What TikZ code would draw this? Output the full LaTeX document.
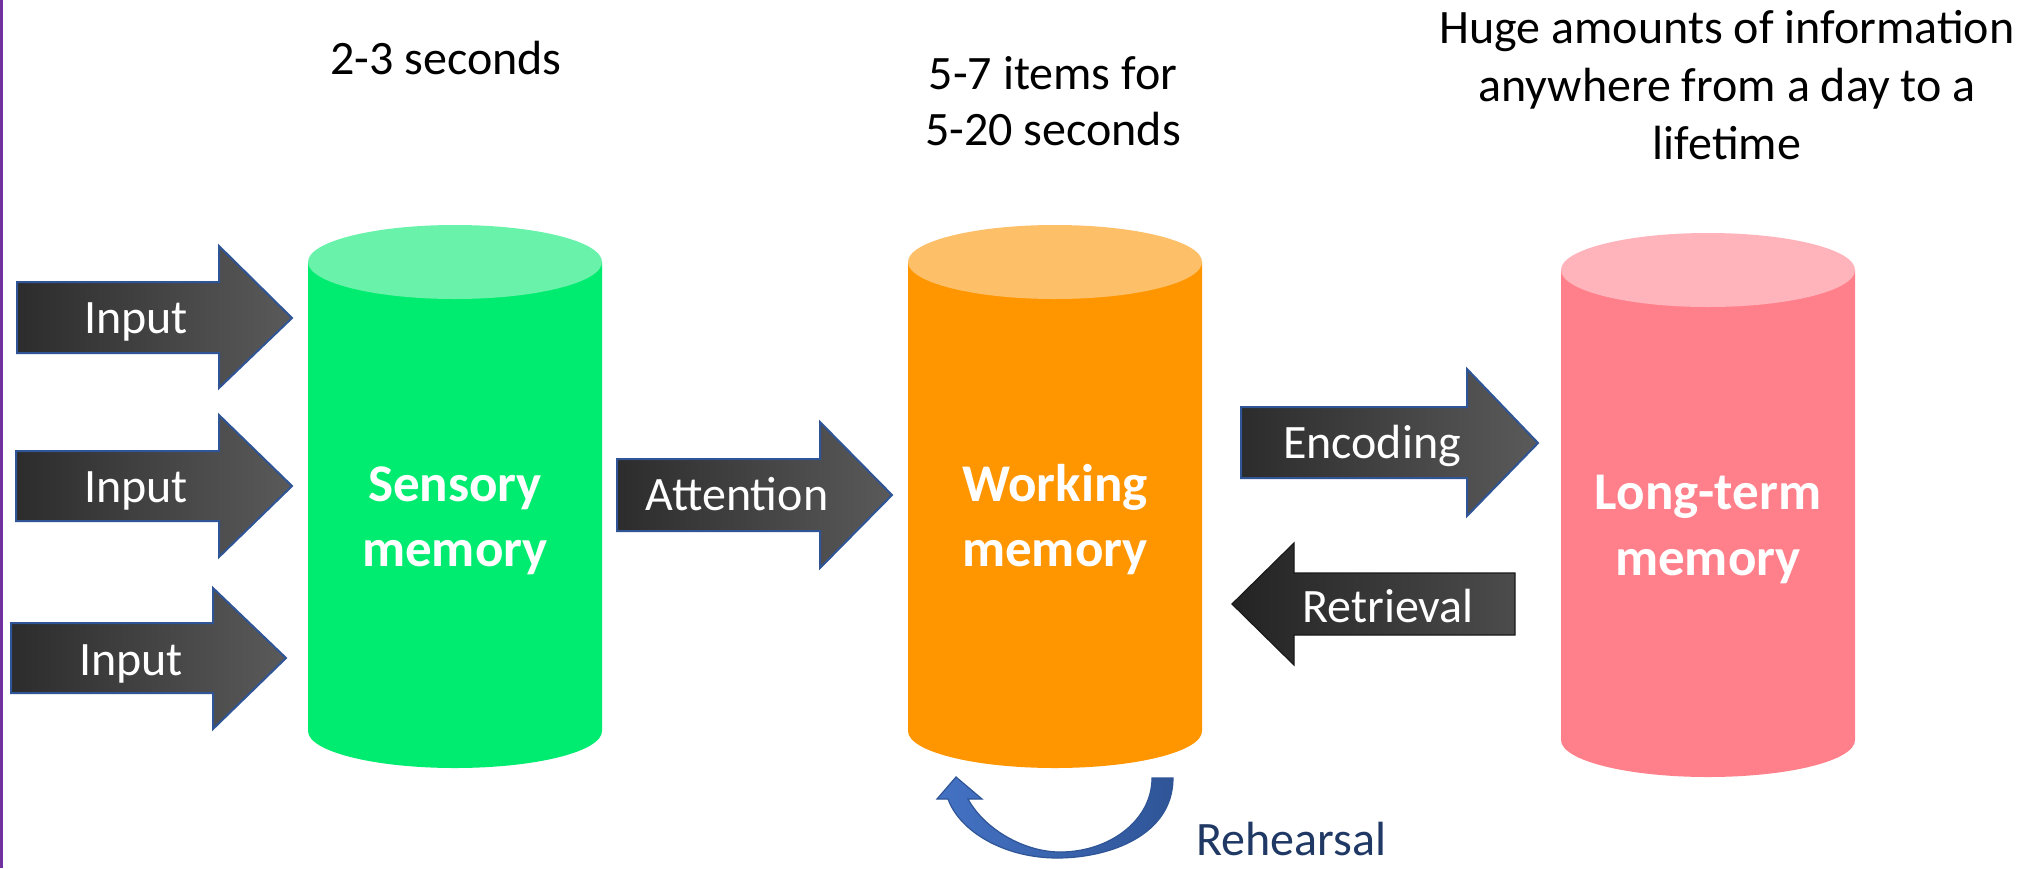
\documentclass[tikz,border=0pt]{standalone}
\usepackage{fontspec}
\setmainfont{Carlito}
\definecolor{sensbody}{RGB}{0,236,112}
\definecolor{senstop}{RGB}{104,242,170}
\definecolor{workbody}{RGB}{255,150,0}
\definecolor{worktop}{RGB}{253,191,104}
\definecolor{longbody}{RGB}{255,128,139}
\definecolor{longtop}{RGB}{255,179,187}
\definecolor{arrdark}{RGB}{44,44,44}
\definecolor{arrlight}{RGB}{90,90,90}
\definecolor{arredge}{RGB}{47,85,151}
\definecolor{rehlight}{RGB}{68,114,196}
\definecolor{rehdark}{RGB}{47,85,151}
\definecolor{navytext}{RGB}{31,56,100}
\definecolor{edgepurple}{RGB}{112,48,160}
\newcommand\drawcyl[5]{%
  \fill[#4] (#1-147,#2) -- (#1-147,#3) arc[start angle=180,end angle=360,x radius=73.5pt,y radius=18.5pt] -- (#1+147,#2) -- cycle;
  \fill[#5] (#1,#2) ellipse[x radius=73.5pt,y radius=18.5pt];}
\tikzset{
  blockarrow/.style={left color=arrdark, right color=arrlight, draw=arredge, line width=1pt, line join=miter},
  backarrow/.style={left color=arrdark!80!black, right color=arrdark!85!white, draw=arrdark!60!black, line width=0.6pt, line join=miter},
  arrowtext/.style={text=white, font=\fontsize{24}{29}\selectfont, anchor=base, inner sep=0pt},
  cyltext/.style={text=white, font=\bfseries\fontsize{26.5}{32}\selectfont, anchor=base, inner sep=0pt},
  notetext/.style={text=black, font=\fontsize{24}{29}\selectfont, anchor=base, inner sep=0pt},
}
\begin{document}
\begin{tikzpicture}[x=0.5pt,y=-0.5pt]
\useasboundingbox (0,0) rectangle (2033,868);
\fill[white] (0,0) rectangle (2033,868);
\fill[edgepurple] (0,0) rectangle (3,868);

% cylinders
\drawcyl{455}{262}{731}{sensbody}{senstop}
\drawcyl{1055}{262}{731}{workbody}{worktop}
\drawcyl{1708}{270}{740}{longbody}{longtop}

\node[cyltext] (sens1) at (455,501) {Sensory};
\node[cyltext] (sens2) at (455,566) {memory};
\node[cyltext] (work1) at (1055,501) {Working};
\node[cyltext] (work2) at (1055,566) {memory};
\node[cyltext] (long1) at (1708,509) {Long-term};
\node[cyltext] (long2) at (1708,575) {memory};

% input arrows
\shadedraw[blockarrow] (17,282) -- (219,282) -- (219,246) -- (292,318) -- (219,388) -- (219,353) -- (17,353) -- cycle;
\shadedraw[blockarrow] (16,451) -- (219,451) -- (219,415) -- (292,486) -- (219,557) -- (219,521) -- (16,521) -- cycle;
\shadedraw[blockarrow] (11,623) -- (213,623) -- (213,588) -- (286,658) -- (213,729) -- (213,693) -- (11,693) -- cycle;
\node[arrowtext] (in1) at (136,333) {Input};
\node[arrowtext] (in2) at (136,502) {Input};
\node[arrowtext] (in3) at (131,675) {Input};

% attention
\shadedraw[blockarrow] (617,459) -- (820,459) -- (820,422) -- (892,495) -- (820,568) -- (820,531) -- (617,531) -- cycle;
\node[arrowtext] (att) at (737,510) {Attention};

% encoding
\shadedraw[blockarrow] (1241,407) -- (1467,407) -- (1467,369) -- (1538,443) -- (1467,516) -- (1467,478) -- (1241,478) -- cycle;
\node[arrowtext] (enc) at (1372,458) {Encoding};

% retrieval
\shadedraw[backarrow] (1515,573) -- (1294,573) -- (1294,543) -- (1232,604) -- (1294,665) -- (1294,635) -- (1515,635) -- cycle;
\node[arrowtext] (ret) at (1388,622) {Retrieval};

% rehearsal curved arrow
\shadedraw[left color=rehlight, right color=rehdark, draw=rehdark, line width=0.6pt, line join=miter]
  (1173,778) .. controls (1173,835) and (1110,858) .. (1057,858)
  .. controls (1005,858) and (960,832) .. (948,799)
  -- (937,799) -- (956,777) -- (982,799) -- (968,799)
  .. controls (985,830) and (1025,852) .. (1060,852)
  .. controls (1110,852) and (1152,820) .. (1152,778) -- cycle;
\node[notetext, text=navytext] (reh) at (1291,855) {Rehearsal};

% top notes
\node[notetext] (n1) at (446,74) {2-3 seconds};
\node[notetext] (n2a) at (1053,89) {5-7 items for};
\node[notetext] (n2b) at (1053,145) {5-20 seconds};
\node[notetext] (n3a) at (1727,43) {Huge amounts of information};
\node[notetext] (n3b) at (1727,101) {anywhere from a day to a};
\node[notetext] (n3c) at (1727,159) {lifetime};
\end{tikzpicture}
\end{document}
